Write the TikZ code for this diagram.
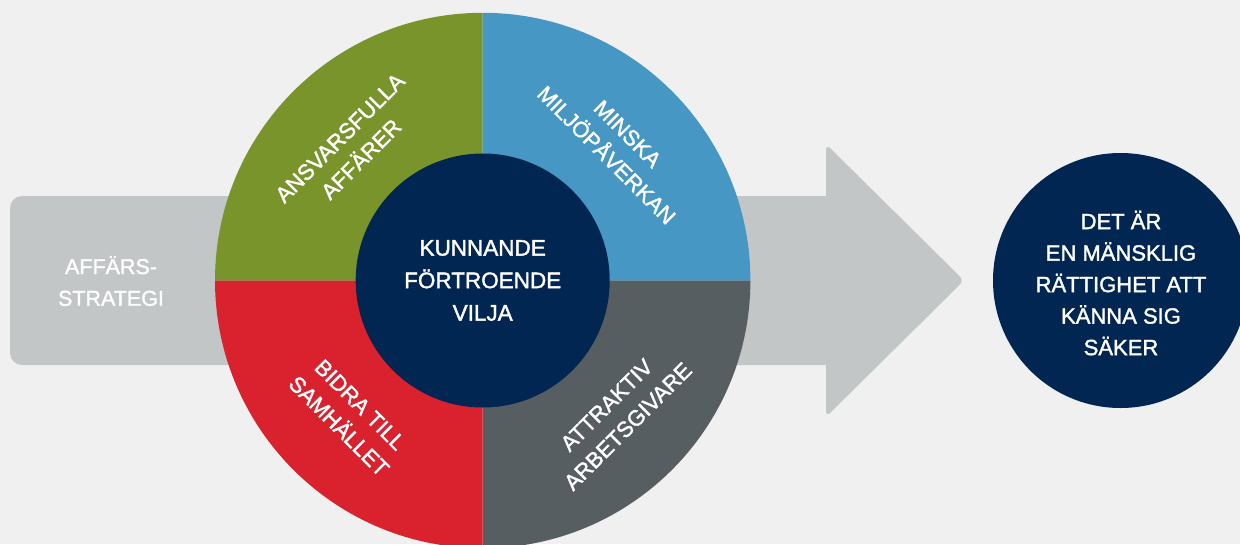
\documentclass[tikz,border=0pt]{standalone}
\usepackage{fontspec}
\newfontfamily\labelfont[FakeBold=1.6]{Liberation Sans}
\definecolor{bgcol}{HTML}{F0F0F0}
\definecolor{arrowgray}{HTML}{C3C6C7}
\definecolor{leafgreen}{HTML}{7A942C}
\definecolor{skyblue}{HTML}{4697C3}
\definecolor{signalred}{HTML}{DA222F}
\definecolor{slate}{HTML}{575E62}
\definecolor{navy}{HTML}{002651}
\tikzset{
  lbl/.style={text=white, align=center, inner sep=0pt, font=\labelfont\fontsize{22}{30}\selectfont},
  hub/.style={circle, fill=navy, inner sep=0pt, text=white, align=center}
}
\begin{document}
\begin{tikzpicture}[x=1pt, y=-1pt]
  % canvas
  \useasboundingbox (0,0) rectangle (1240,544);
  \clip (0,0) rectangle (1240,544);
  \fill[bgcol] (0,0) rectangle (1240,544);

  % big arrow: shaft and head
  \fill[arrowgray, rounded corners=12pt] (10,196) rectangle (840,365);
  \fill[arrowgray, rounded corners=6pt] (826,144) -- (964,280.5) -- (826,417) -- cycle;

  % four quadrants of the ring
  \begin{scope}[shift={(482.7,280.5)}]
    \fill[leafgreen] (0,0) -- (180:267.7) arc[start angle=180, end angle=270, radius=267.7] -- cycle;
    \fill[skyblue]   (0,0) -- (270:267.7) arc[start angle=270, end angle=360, radius=267.7] -- cycle;
    \fill[slate]     (0,0) -- (0:267.7)   arc[start angle=0,   end angle=90,  radius=267.7] -- cycle;
    \fill[signalred] (0,0) -- (90:267.7)  arc[start angle=90,  end angle=180, radius=267.7] -- cycle;
  \end{scope}

  % core
  \node[hub, minimum size=254pt, font=\labelfont\fontsize{22.5}{32.5}\selectfont] (core) at (482.7,280.5)
    {KUNNANDE\\FÖRTROENDE\\VILJA};

  % ring labels
  \node[lbl, rotate=45]  (ansvar)  at (350.5,148.5) {ANSVARSFULLA\\AFFÄRER};
  \node[lbl, rotate=-45] (minska)  at (617,144.5)   {MINSKA\\MILJÖPÅVERKAN};
  \node[lbl, rotate=-45] (bidra)   at (349.5,415.5) {BIDRA TILL\\SAMHÄLLET};
  \node[lbl, rotate=45]  (attrakt) at (617.3,415.8) {ATTRAKTIV\\ARBETSGIVARE};

  % arrow label
  \node[lbl, font=\labelfont\fontsize{21.5}{31.7}\selectfont] (strategi) at (111,281) {AFFÄRS-\\STRATEGI};

  % goal
  \node[hub, minimum size=255pt] (goal) at (1120.5,280.5) {};
  \node[lbl, font=\labelfont\fontsize{22}{31.5}\selectfont] (goaltext) at (1121,283)
    {DET ÄR\\EN MÄNSKLIG\\RÄTTIGHET ATT\\KÄNNA SIG\\SÄKER};
\end{tikzpicture}
\end{document}
